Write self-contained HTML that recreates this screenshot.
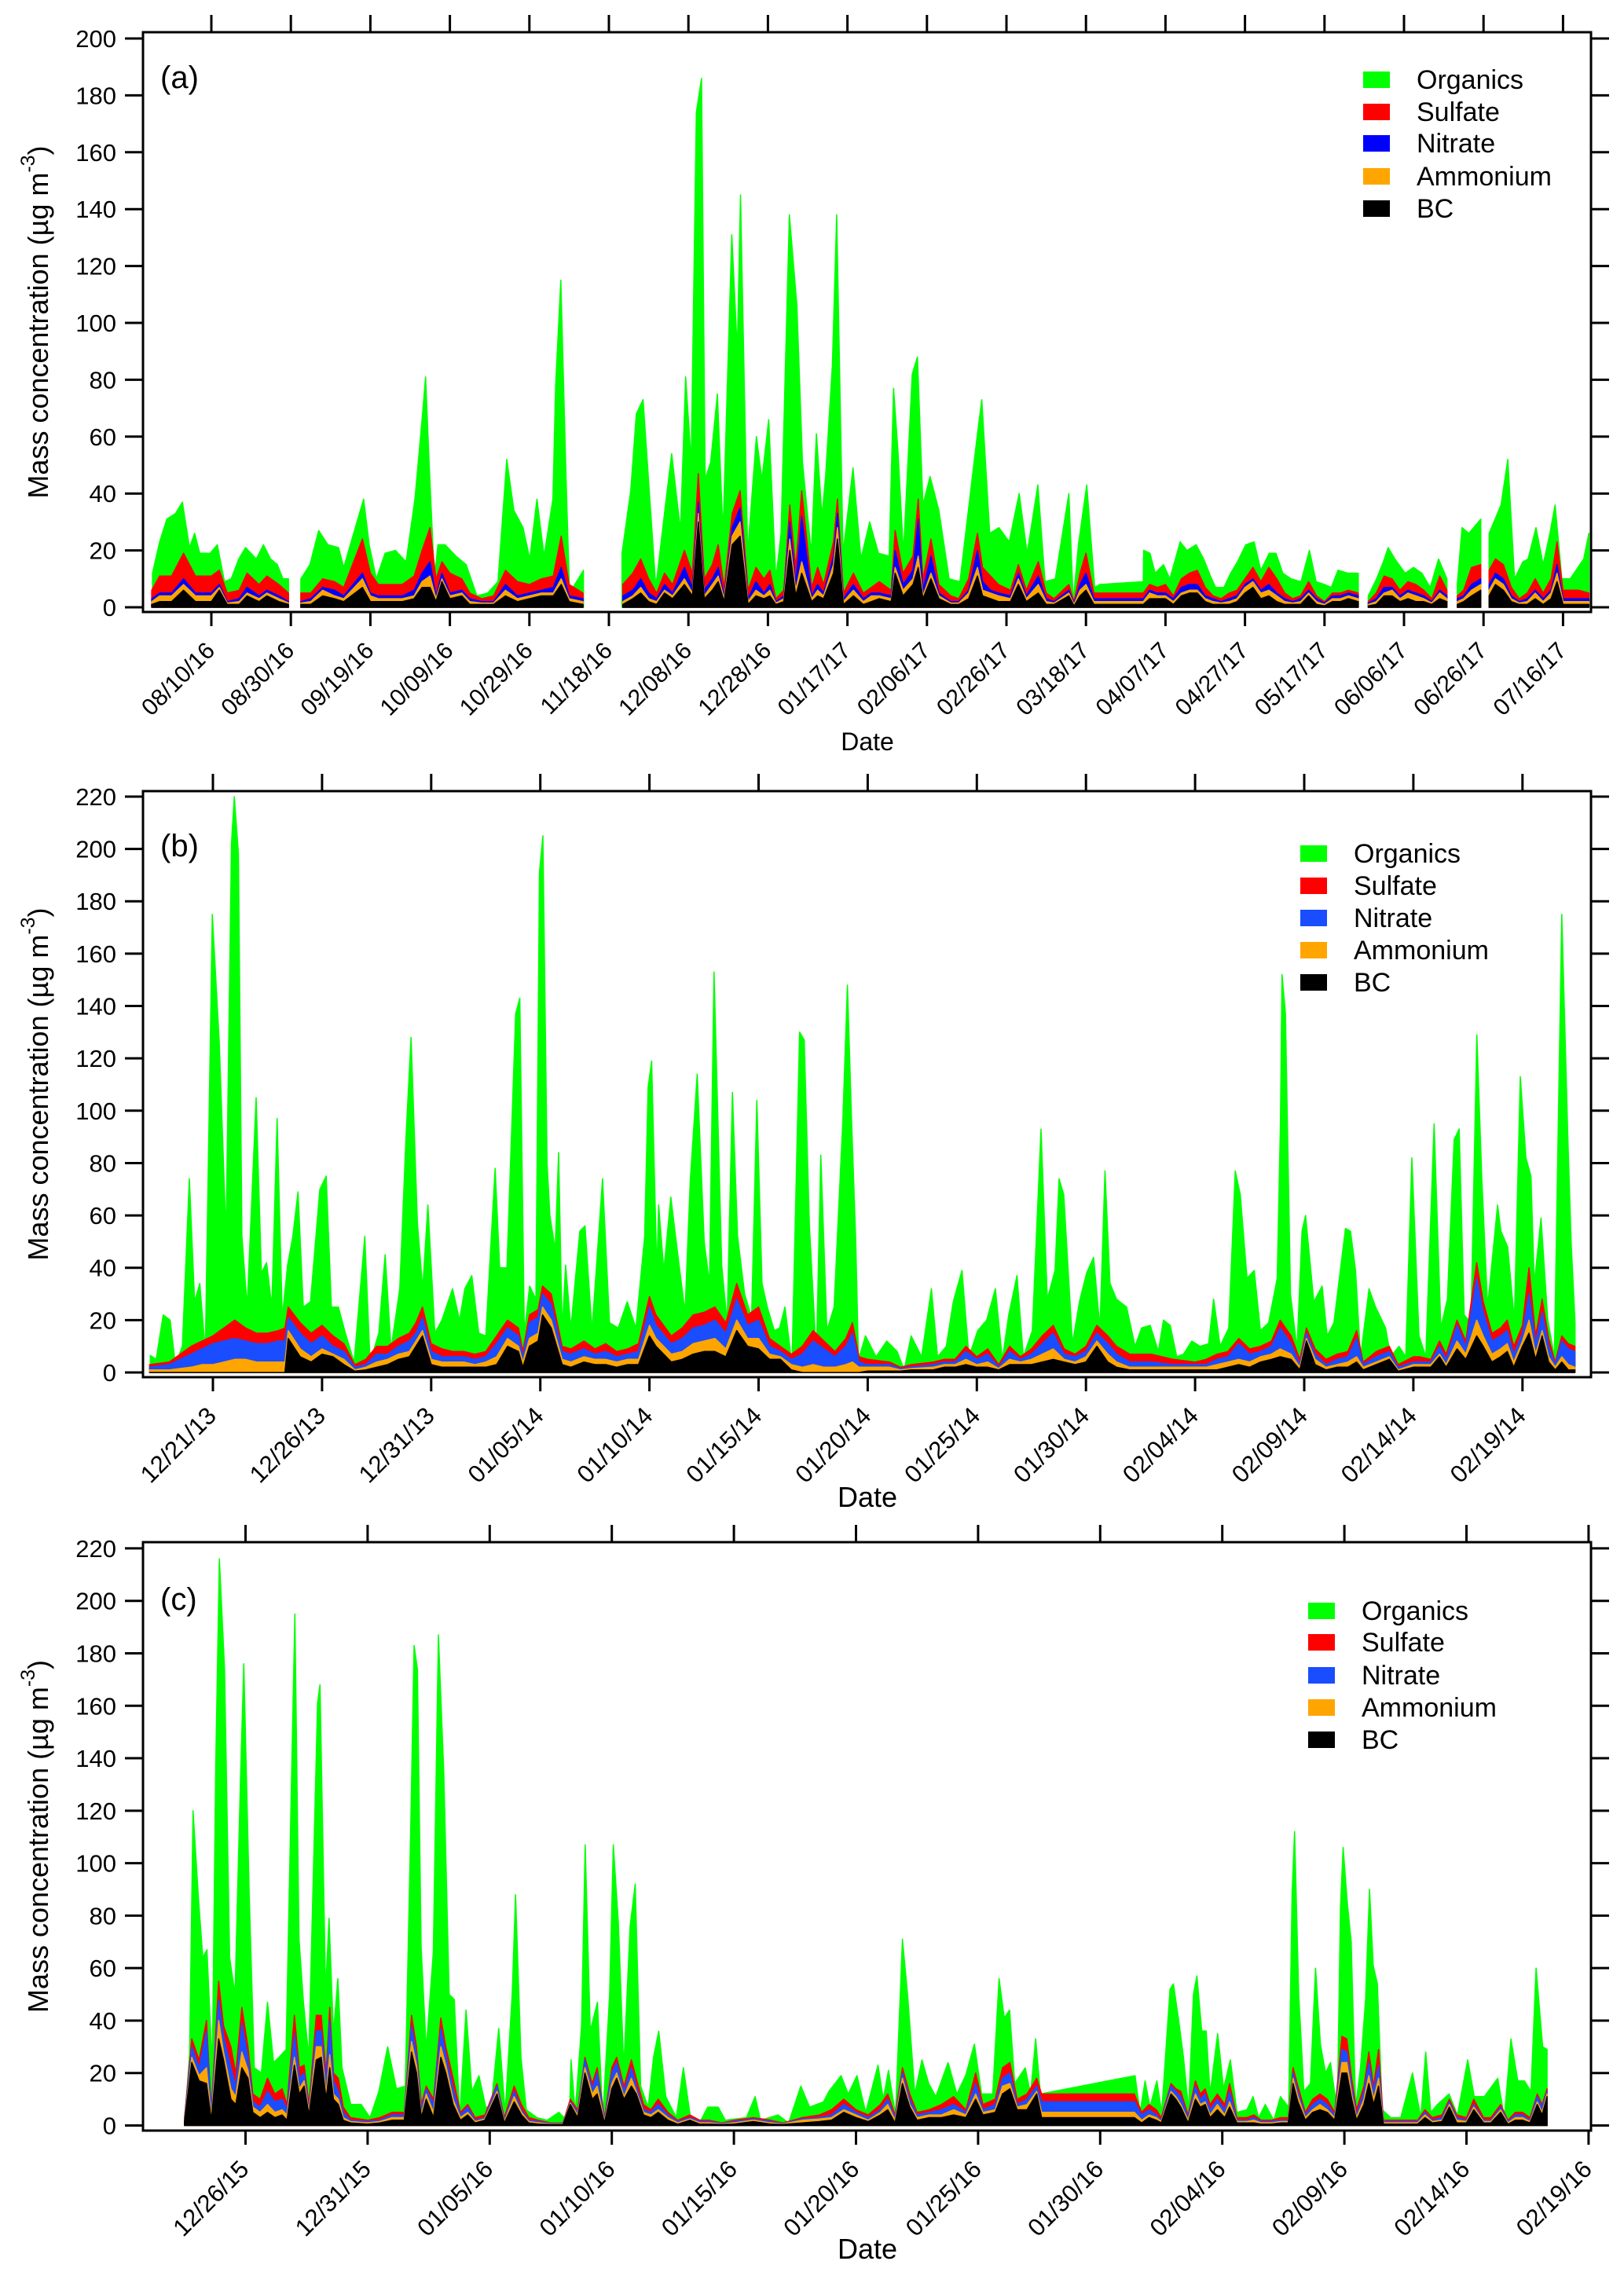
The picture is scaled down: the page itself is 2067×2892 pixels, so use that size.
<!DOCTYPE html>
<html><head><meta charset="utf-8"><title>Mass concentration time series</title>
<style>
html,body{margin:0;padding:0;background:#fff}
svg{display:block}
text{font-family:"Liberation Sans",Arial,sans-serif;fill:#000}
</style></head>
<body>
<svg id="fig" width="2067" height="2892" viewBox="0 0 2067 2892" xmlns="http://www.w3.org/2000/svg">
<rect x="0" y="0" width="2067" height="2892" fill="#fff"/>
</svg>
<script>
// ===== Panel (a) data =====
const aTickLabels=["08/10/16","08/30/16","09/19/16","10/09/16","10/29/16","11/18/16","12/08/16","12/28/16","01/17/17","02/06/17","02/26/17","03/18/17","04/07/17","04/27/17","05/17/17","06/06/17","06/26/17","07/16/17"];
const aTickDays=[0,20,40,60,80,100,120,140,160,180,200,220,240,260,280,300,320,340];
const aYTicks=[0,20,40,60,80,100,120,140,160,180,200];
const aOrgDays=[-14.8,-13,-11.2,-9,-7.3,-5.5,-4.2,-2.9,-0.3,1.5,3.3,5,6.9,8.6,11.3,13.1,14.9,16.6,18,19.4,null,22.5,24.8,27,29.3,32,33.3,38.3,39.7,41.5,43.7,46.3,49,51.2,53,53.9,54.8,56.1,57,58.8,61.5,64.1,66.8,69.5,72.1,74.3,76.1,78.4,80.1,81.9,83.7,85.9,86.6,87.9,89.2,90.1,92.3,93.6,null,103.3,105.5,106.9,108.6,110.4,111.8,114.4,115.8,118,119.3,120.7,122,123.3,124.2,125.6,127.3,128.7,130.9,132.3,133.1,134.9,137.1,138.5,140.2,142,143.3,145.4,147.3,148.7,150.9,152.2,153.6,154.5,156.2,157.3,158.9,161.4,163.4,165.6,167.8,170.5,171.6,172.7,174.1,176.3,177.6,179,180.8,183,185.6,188.3,190.5,192.7,193.8,195.8,198.1,200.7,203.2,205.2,207.9,209.7,212.3,215.7,216.8,218.1,220.2,222.2,223.5,234.4,234.5,236.1,237.4,239.5,241.1,243.7,245.4,247.7,249.6,251.3,252.6,254.7,256.4,258.1,260.2,262.3,264,266.1,267.8,269.5,271.6,274.1,276.2,277.9,280,281.7,283.4,285.9,288.5,null,291,293.1,294.8,296,297.7,300.3,302.4,304.5,306.6,308.7,310.8,null,313.4,314.6,316.3,319.3,null,321.4,324.4,326.1,327.8,329.9,331.2,333.2,335,336.7,338,339.7,341.8,345.2,346.5];
const aOrgTotal=[12,23,31,33,37,21,26,19,19,22,9,10,17,21,17,22,17,15,10,10,null,10,15,27,22,21,14,38,22,10,19,20,16,38,66,81,50,10,22,22,18,15,4,5,9,52,34,28,17,38,18,38,78,115,46,5,10,13,null,19,41,68,73,36,7,38,54,27,81,51,174,186,45,51,75,26,131,90,145,19,60,45,66,10,26,138,106,51,19,61,32,46,85,138,19,49,17,30,19,18,77,55,19,82,88,36,46,34,10,9,35,61,73,26,28,23,40,19,43,9,10,40,2,22,43,7,8,9,20,19,12,15,10,23,20,22,17,11,7,7,12,16,22,23,13,19,19,12,10,9,20,9,8,7,13,12,12,null,4,10,16,21,17,12,14,12,7,17,10,null,8,28,26,31,null,26,36,52,10,16,17,28,15,26,36,10,10,17,26];
const aIonDays=[-15,-13,-10,-7,-4,0,2,4,7,9,12,14,17,19.4,null,22.5,25,28,31,33.3,38,40,42,45,48,51,53,55,56.5,58,60,63,65,68,71,74,77,80,83,86,88,90,93.5,null,103.5,106,108,110,112,114,116,119,121,122.5,124,126,127.5,129,131,133,135,137,139,140.5,142,144,145.5,147,148.5,151,152.5,154,156.5,157.5,159,161.5,164,166,168,171,172,174,176.5,177.8,179,181,183,186,188,190.5,192.7,194,196,198,201,203,205,208,210,212,215.7,217,218.5,220,222,223.5,234.4,236,238,240,242,244,246,248,250,252,254,256,258,260,262,264,266,268,270,272,274,276,278,280,282,284,286,288.5,null,291,293,295,297,299,301,303,305,307,309,310.8,null,313.4,315,317,319.3,null,321.4,323,325,327,329,331,333,335,337,338.5,340,342,344,346.5];
const aSulfTop=[6,11,11,19,11,11,13,5,6,12,8,11,8,5,null,5,5,10,9,7,24,12,8,8,8,11,20,28,10,16,12,10,5,3,4,13,9,8,10,11,25,8,5,null,8,12,17,10,5,12,8,20,12,47,10,15,22,7,33,41,6,14,10,13,3,6,36,14,41,7,14,8,23,38,5,12,5,7,9,6,27,12,18,38,10,24,8,4,3,10,26,14,11,8,6,15,6,16,5,3,8,2,12,19,5,5,5,8,7,8,4,10,12,13,7,4,3,5,6,10,14,9,14,10,5,3,4,9,4,2,5,5,6,5,null,2,5,11,10,6,9,8,6,3,11,6,null,4,6,14,15,null,13,17,15,7,3,5,10,5,10,23,6,6,6,5];
const aNitTop=[3,5,5,10,5,5,8,2,3,7,4,6,4,2,null,2,3,7,6,4,12,5,4,4,4,6,12,16,4,12,5,6,3,2,2,8,4,5,6,7,14,4,3,null,4,6,10,5,3,8,5,14,7,37,6,10,14,4,28,35,3,9,5,8,2,4,30,8,32,4,8,5,18,33,3,8,3,5,5,4,20,8,13,31,6,18,5,2,2,6,20,9,6,5,4,12,4,11,3,2,6,1.5,8,12,3,3,3,6,5,5,3,7,8,8,4,3,2,3,4,8,10,6,8,5,3,2,3,6,3,1.5,4,4,5,4,null,1.5,3,7,7,4,6,5,4,2,6,4,null,3,4,8,10,null,8,12,10,4,2,3,6,3,6,15,3,3,3,3];
const aAmmTop=[2,4,4,8,4,4,7,1.5,2,5,3,5,3,1.5,null,1.5,2,6,4,3,10,4,3,3,3,4,9,11,3,10,4,5,2,1.5,1.5,6,3,4,5,5,10,3,2,null,2,4,7,3,2,6,4,10,5,33,4,8,11,3,25,30,2,6,4,6,1.5,3,24,6,16,3,6,4,15,28,2,6,2,4,4,3,14,6,10,18,4,12,4,1.5,1.5,5,14,6,5,4,3,10,3,8,2,1.5,5,1,6,8,2,2,2,5,4,4,2,5,6,6,3,2,1.5,2,3,7,9,5,6,4,2,1.5,2,5,2,1,3,3,4,3,null,1,2,5,6,3,5,4,3,1.5,5,3,null,2,3,6,8,null,6,10,8,3,1.5,2,5,2,5,12,2,2,2,2];
const aBC=[1,2,2,6,2,2,6,1,1,4,2,4,2,1,null,1,1,4,3,2,7,2,2,2,2,3,7,7,2,9,3,4,1,1,1,4,2,3,4,4,8,2,1,null,1,3,5,2,1,5,3,8,4,30,3,6,9,2,22,25,1,4,3,4,1,2,20,4,12,2,4,3,12,24,1,4,1,2,3,2,12,4,8,14,3,10,3,1,1,3,11,4,3,2,2,8,2,5,1,1,4,0.5,4,6,1,1,1,3,3,3,1,4,5,5,2,1,1,1,2,5,7,3,4,2,1,1,1,4,1,0.5,2,2,3,2,null,0.5,1,4,4,2,3,2,2,1,3,2,null,1,2,4,6,null,4,8,6,2,1,1,3,1,3,9,1,1,1,1];

// ===== Panel (b) data =====
const bTickLabels=["12/21/13","12/26/13","12/31/13","01/05/14","01/10/14","01/15/14","01/20/14","01/25/14","01/30/14","02/04/14","02/09/14","02/14/14","02/19/14"];
const bTickDays=[0,5,10,15,20,25,30,35,40,45,50,55,60];
const bYTicks=[0,20,40,60,80,100,120,140,160,180,200,220];
const bOrgDays=[-2.87,-2.6,-2.28,-1.96,-1.72,-1.4,-1.08,-0.84,-0.6,-0.35,-0.11,-0.03,0.29,0.6,0.85,0.98,1.17,1.33,1.57,1.98,2.22,2.46,2.7,2.94,3.18,3.42,3.66,3.9,4.14,4.47,4.9,5.19,5.43,5.75,6.07,6.47,6.96,7.2,7.6,7.89,8.16,8.56,8.85,9.08,9.37,9.61,9.85,10.17,10.49,10.98,11.3,11.54,11.86,12.18,12.5,12.93,13.14,13.47,13.87,14.06,14.27,14.51,14.8,14.96,15.12,15.31,15.44,15.68,15.84,16,16.16,16.4,16.81,17.05,17.37,17.85,18.17,18.57,18.98,19.38,19.78,19.94,20.1,20.34,20.42,20.66,20.98,21.3,21.63,21.87,22.19,22.51,22.75,22.96,23.31,23.56,23.8,24.04,24.36,24.68,24.92,25.16,25.4,25.72,25.96,26.21,26.53,26.88,27.09,27.33,27.65,27.85,28.13,28.46,28.86,29.07,29.26,29.45,29.58,29.9,30.38,30.87,31.35,31.67,31.99,32.47,32.92,33.2,33.6,33.92,34.32,34.64,35.04,35.45,35.85,36.17,36.46,36.84,37.13,37.54,37.94,38.23,38.58,38.77,38.98,39.38,39.7,40.03,40.35,40.64,40.87,41.1,41.4,41.86,42.25,42.55,42.94,43.32,43.55,43.86,44.16,44.47,44.85,45.23,45.62,45.85,46.15,46.54,46.84,47.07,47.38,47.71,47.99,48.37,48.76,48.91,48.98,49.14,49.37,49.67,49.9,50.06,50.44,50.82,51.05,51.36,51.89,52.12,52.35,52.58,52.97,53.27,53.73,53.96,54.34,54.65,54.93,55.26,55.57,55.95,56.26,56.56,56.87,57.1,57.33,57.64,57.91,58.13,58.4,58.86,59.01,59.32,59.63,59.9,60.16,60.39,60.54,60.85,61.16,61.46,61.8,62.08,62.23,62.41];
const bOrgTotal=[6.5,5,22,20,3,10,74,27,34,8,131,175,126,52,202,220,198,52,25,105,38,42,25,97,21,41,52,69,25,27,70,75,25,25,15,4,52,4,15,45,9,32,91,128,57,32,64,15,20,32,20,32,37,15,14,78,40,40,137,143,15,33,28,191,205,80,60,47,84,16,41,17,54,56,16,74,19,17,27,17,52,109,119,38,64,39,67,45,23,73,114,50,34,153,41,19,107,52,30,21,104,34,25,16,17,25,3,130,127,56,6,83,16,25,96,148,97,51,5,14,6,12,8,1,14,6,32,6,10,27,39,6,16,20,32,5,22,37,6,16,93,28,39,74,68,11,27,38,44,17,77,34,28,25,10,17,18,8,20,18,6,7,12,10,11,28,10,17,77,68,36,39,16,19,36,95,152,137,30,9,54,60,27,33,14,19,55,54,39,6,32,25,17,6,10,6,82,14,6,95,17,28,89,93,22,19,129,75,25,64,54,48,20,113,82,75,34,59,20,6,175,89,50,19];
const bIonDays=[-2.9,-2,-1,-0.5,0,0.5,1,1.5,2,2.5,3,3.3,3.45,4,4.5,5,5.5,6,6.5,7,7.5,8,8.5,9,9.3,9.6,10,10.5,11,11.5,12,12.5,13,13.5,14,14.2,14.5,14.9,15.1,15.5,16,16.4,17,17.5,18,18.5,19,19.5,20,20.3,21,21.5,22,22.5,23,23.5,24,24.5,25,25.5,26,26.5,27,27.5,28,28.5,29,29.3,29.6,30,31,31.5,32,33,33.5,34,34.5,35,35.5,36,36.5,37,37.5,38,38.5,39,39.5,40,40.5,41,41.4,42,43,44,45,45.5,46,46.5,47,47.5,48,48.5,48.9,49.4,49.8,50.1,50.5,51,51.5,52,52.4,52.7,53.3,53.9,54.3,55,55.3,55.8,56.2,56.5,57,57.4,57.9,58.2,58.6,59,59.3,59.6,60,60.3,60.6,60.9,61.2,61.5,61.8,62.1,62.4];
const bSulfTop=[3,4,10,12,14,17,20,17,15,15,16,17,25,19,15,18,14,11,3,5,10,10,13,15,19,25,11,9,8,8,7,8,14,20,17,8,22,24,33,30,10,9,12,9,11,8,9,11,29,22,14,17,22,23,25,19,34,22,25,13,10,7,10,16,12,8,13,19,6,5,4,2,3,4,5,5,10,6,9,3,10,6,9,14,18,9,7,10,18,14,10,7,7,5,4,5,7,8,13,9,10,12,20,14,5,17,9,5,7,8,16,4,8,10,3,6,6,5,12,7,20,12,42,27,15,17,20,10,18,40,14,28,13,4,14,11,10];
const bNitTop=[2,3,7,9,11,12,13,12,11,11,12,12,21,15,11,14,10,8,2,3,7,7,10,12,15,21,8,6,6,6,5,6,11,17,14,6,19,21,30,26,8,7,9,7,8,6,7,8,25,18,11,13,17,18,20,15,28,18,20,10,8,5,7,12,9,6,10,15,4,3,3,1.5,2,3,4,4,8,5,7,2,8,5,7,11,15,7,6,8,15,11,7,4,4,3,3,3,5,6,11,7,8,10,17,11,3,15,7,3,5,6,13,3,6,8,2,4,4,4,10,5,18,10,36,23,12,14,16,7,15,30,11,23,10,3,12,9,8];
const bAmmTop=[1,1,2,3,3,4,5,5,4,4,4,4,16,9,6,9,7,5,1,2,4,5,7,8,12,16,5,4,4,4,3,4,6,13,10,4,13,15,25,20,5,4,6,5,5,4,5,5,18,13,7,8,11,12,13,9,20,13,13,7,6,3,2,3,2,2,3,4,2,2,2,1,1.5,2,3,3,5,3,4,1.5,5,4,5,7,9,5,4,6,12,7,4,2,2,2,2,2,3,4,5,4,6,7,9,7,2,13,5,2,3,4,6,2,4,6,1,3,3,3,7,3,12,7,20,14,7,9,11,4,12,20,7,16,6,2,6,3,2];
const bBC=[0,0,0,0,0,0,0,0,0,0,0,0,13,6,4,7,6,3,0.5,1,2,3,5,6,10,14,3,2,2,2,2,2,3,10,8,2,10,12,22,17,3,2,4,3,3,2,3,3,14,10,4,5,7,8,8,6,16,10,9,5,5,1,0,0,0,0,0,0,0,0.5,0.5,0.5,1,1,2,2,3,2,2,1,3,3,3,4,5,4,3,4,10,4,2,1,1,1,1,1,1,2,3,2,4,5,6,5,1,12,3,1,2,2,4,1,3,5,0.5,2,2,2,6,2,9,5,14,10,4,6,8,2,10,15,5,14,4,1,4,1,1];

// ===== Panel (c) data =====
const cTickLabels=["12/26/15","12/31/15","01/05/16","01/10/16","01/15/16","01/20/16","01/25/16","01/30/16","02/04/16","02/09/16","02/14/16","02/19/16"];
const cTickDays=[0,5,10,15,20,25,30,35,40,45,50,55];
const cYTicks=[0,20,40,60,80,100,120,140,160,180,200,220];
const cOrgDays=[-2.48,-2.29,-2.15,-1.93,-1.75,-1.58,-1.36,-1.22,-1.07,-0.86,-0.65,-0.43,-0.21,-0.07,0.15,0.36,0.65,0.9,1.15,1.37,1.66,2.02,2.19,2.37,2.59,2.95,3.05,3.28,3.42,3.6,3.78,3.95,4.31,4.74,5.1,5.46,5.82,6.18,6.54,6.76,6.9,7.04,7.19,7.4,7.69,7.9,8.12,8.34,8.55,8.77,9.03,9.27,9.56,9.84,10.06,10.37,10.63,10.92,11.06,11.28,11.5,11.93,12.36,12.83,13.26,13.33,13.5,13.76,13.91,14.12,14.41,14.63,14.91,15.06,15.27,15.49,15.75,15.96,16.18,16.49,16.71,16.92,17.21,17.64,17.93,18.22,18.65,18.93,19.36,19.65,20.51,20.87,21.09,21.81,22.24,22.74,23.1,23.67,23.89,24.39,24.68,25.04,25.4,25.9,26.12,26.33,26.62,26.9,27.12,27.41,27.7,27.98,28.27,28.77,29.13,29.49,29.85,30.14,30.6,30.86,31.07,31.29,31.5,31.93,32.15,32.36,32.55,36.43,36.63,36.84,37.04,37.32,37.52,37.86,38,38.2,38.41,38.62,38.82,38.96,39.16,39.34,39.5,39.81,40.05,40.33,40.6,41.01,41.26,41.49,41.76,42.11,42.38,42.72,42.86,42.96,43.13,43.34,43.61,43.82,44.02,44.23,44.43,44.71,44.84,44.95,45.12,45.28,45.46,45.66,45.87,46.03,46.18,46.35,46.55,46.9,47.31,47.79,48.13,48.33,48.54,48.81,49.29,49.63,50.05,50.32,50.73,51.28,51.55,51.82,52.1,52.37,52.64,52.85,53.12,53.3];
const cOrgTotal=[3,27,120,87,64,67,22,138,216,174,64,50,131,176,88,22,20,47,24,26,29,195,71,47,26,161,168,51,79,35,56,22,8,8,3,13,30,14,15,111,183,174,68,29,66,187,134,50,48,3,44,13,19,7,7,37,5,50,88,26,6,3,2,5,1,25,5,38,107,36,47,3,50,107,77,22,76,92,15,7,26,36,11,3,22,3,2,7,7,2,3,11,2,4,1,15,7,9,13,19,12,19,5,23,10,21,4,71,49,12,25,16,11,24,12,19,31,12,12,56,41,44,16,22,12,33,12,19,5,17,7,17,5,52,54,41,26,6,50,57,36,36,12,35,14,25,5,6,11,3,8,2,11,7,89,112,50,13,16,60,31,20,24,5,83,106,85,70,7,22,48,90,61,54,6,3,3,20,3,28,5,8,12,4,25,11,11,18,3,33,17,17,13,60,30,29];
const cIonDays=[-2.5,-2.2,-1.9,-1.6,-1.4,-1.1,-0.9,-0.6,-0.4,-0.15,0.1,0.3,0.6,0.9,1.2,1.5,1.7,2,2.2,2.4,2.6,2.9,3.1,3.3,3.45,3.6,3.8,4,4.3,5,5.5,6,6.5,6.8,7,7.2,7.4,7.7,8,8.2,8.5,8.8,9.1,9.4,9.8,10.3,10.6,11,11.3,11.6,12,12.5,13,13.3,13.6,13.9,14.2,14.4,14.7,15,15.2,15.5,15.8,16,16.3,16.6,16.9,17.3,17.7,18.2,18.6,19,19.5,20,20.8,21.5,22,22.8,23.5,24,24.5,25,25.5,26,26.3,26.6,26.9,27.2,27.5,28,28.5,29,29.5,29.9,30.2,30.7,31,31.3,31.6,32,32.4,32.6,36.4,36.7,37,37.3,37.5,37.9,38.1,38.3,38.6,38.9,39.1,39.3,39.5,39.8,40.1,40.3,40.6,41,41.3,41.6,42,42.4,42.7,42.9,43.1,43.4,43.7,44,44.3,44.6,44.9,45.1,45.3,45.5,45.8,46,46.2,46.4,46.6,47,47.5,48,48.3,48.6,49,49.3,49.6,50,50.3,50.7,51,51.4,51.7,52,52.3,52.6,52.9,53.1,53.3];
const cSulfTop=[3,33,25,40,6,55,38,30,20,45,30,12,10,18,12,14,8,42,22,23,8,42,42,20,45,20,18,7,3,2,3,5,5,42,30,8,15,10,41,30,18,5,8,3,4,16,3,15,8,3,2,1,1,10,6,26,16,22,3,22,26,15,25,18,8,6,10,5,2,4,2,2,1,2,3,2,1,3,4,6,10,6,4,8,12,4,22,12,5,6,8,11,6,20,8,10,22,24,10,12,18,12,12,5,8,6,3,16,14,13,4,17,12,14,8,12,8,16,3,3,4,2,2,3,3,22,15,5,10,12,10,5,34,33,18,6,15,28,15,29,2,2,2,2,6,3,4,10,4,3,10,3,3,8,2,5,5,3,12,8,14];
const cNitTop=[2.5,30,22,36,5,48,34,22,15,39,26,9,7,13,9,10,6,35,18,20,6,36,36,16,40,17,13,5,2,1.5,2,4,4,38,27,6,14,8,37,27,14,4,7,2,3,15,2,13,6,2,1.5,0.8,0.8,9,5,25,14,20,2,20,24,13,22,15,6,5,8,4,1.5,3,1.5,1.5,0.8,1.5,2.5,1.5,0.8,2.5,3,4,8,5,3,6,10,3,20,10,4,5,6,8,5,16,6,8,18,20,8,10,15,9,9,4,6,4,2,15,13,11,3,15,10,12,6,10,6,13,2,2,3,1.5,1.5,2,2,20,13,4,8,10,8,4,29,28,15,4,13,24,13,23,1.5,1.5,1.5,1.5,5,2,3,9,3,2,8,2,2,7,1.5,4,4,2,11,7,13];
const cAmmTop=[2,26,19,22,3,40,28,14,11,28,21,7,5,8,5,6,4,26,14,17,5,30,30,12,27,12,10,3,1.5,1,1.5,3,3,32,23,4,12,5,30,23,10,3,5,1.5,2.5,13,1.5,11,5,1.5,1,0.6,0.6,8.5,4,22,12,15,1.5,16,20,11,18,13,5,4,6,3,1,2.5,1,1,0.6,1,2,1,0.6,2,2.5,3,6,4,2,5,8,2,18,8,3,4,4,6,4,12,5,6,15,16,7,8,13,5,5,2,4,3,1.5,13,11,8,2,12,8,9,4,8,4,9,1.5,1.5,2,1,1,1.5,1.5,18,11,3,6,8,6,3,24,24,12,3,10,19,10,18,1,1,1,1,4,1.5,2,8,2,1.5,7,1.5,1.5,6,1,3,3,1.5,9,5,12];
const cBC=[1.5,24,17,16,2,33,25,10,8,22,18,5,3,5,3,4,2,23,12,15,4,25,26,10,22,10,8,2,1,0.5,1,2,2,28,20,3,10,3,26,20,8,2,4,1,2,12,1,9,4,1,0.5,0.4,0.4,8,3,20,10,12,1,14,18,10,15,12,4,3,5,2,0.5,2,0.5,0.5,0.4,0.5,1.5,0.5,0.4,1,1.5,2,5,3,1.5,4,6,1,16,7,2,3,3,4,3,10,4,5,12,14,6,6,12,3,3,1,3,2,1,12,10,7,1,10,7,8,3,6,3,7,1,1,1,0.5,0.5,1,1,16,9,2,5,6,5,2,20,20,10,2,8,16,8,15,0.5,0.5,0.5,0.5,3,1,1.5,7,1,1,6,1,1,5,0.5,2,2,1,8,4,11];

// ===== rendering =====
const NS="http://www.w3.org/2000/svg";
const svg=document.getElementById('fig');
function mk(tag,attrs,parent){const e=document.createElementNS(NS,tag);for(const k in attrs)e.setAttribute(k,attrs[k]);(parent||svg).appendChild(e);return e;}

function drawPanel(p){
  const g=mk('g',{});
  
  
  const xs=d=>p.x0+d*p.ppd;
  const ys=v=>p.y0-v*p.ppu;
  const L=p.frame[0],T=p.frame[1],R=p.frame[2],B=p.frame[3];
  const clip=mk('clipPath',{id:'clip-'+p.id},g);
  mk('rect',{x:L,y:T,width:R-L,height:B-T},clip);
  const plot=mk('g',{'clip-path':'url(#clip-'+p.id+')'},g);
  
  
  function area(days,vals,color,name){
    let d='',seg=[];
    const flush=()=>{if(seg.length){d+='M'+xs(seg[0][0]).toFixed(1)+','+ys(0).toFixed(1);for(const s of seg)d+='L'+xs(s[0]).toFixed(1)+','+ys(s[1]).toFixed(1);d+='L'+xs(seg[seg.length-1][0]).toFixed(1)+','+ys(0).toFixed(1)+'Z';}seg=[];};
    for(let i=0;i<days.length;i++){if(days[i]===null||vals[i]===null){flush();continue;}seg.push([days[i],vals[i]]);}
    flush();
    const path=mk('path',{d:d,fill:color,stroke:color,'stroke-width':1.5,'stroke-linejoin':'round'},plot);
    
    
  }
  area(p.orgDays,p.org,'#00ff00','organics-area-'+p.id);
  area(p.ionDays,p.sulf,'#ff0000','sulfate-area-'+p.id);
  area(p.ionDays,p.nit,p.blue,'nitrate-area-'+p.id);
  area(p.ionDays,p.amm,'#ffa500','ammonium-area-'+p.id);
  area(p.ionDays,p.bc,'#000000','bc-area-'+p.id);
  const fr=mk('rect',{x:L,y:T,width:R-L,height:B-T,fill:'none',stroke:'#000','stroke-width':3},g);
  
  
  for(const v of p.yTicks){
    const y=ys(v);
    const t1=mk('line',{x1:L-23,x2:L,y1:y,y2:y,stroke:'#000','stroke-width':3},g);
    
    
    const t2=mk('line',{x1:R,x2:R+23,y1:y,y2:y,stroke:'#000','stroke-width':3},g);
    
    
    const lb=mk('text',{x:L-34,y:y+11,'text-anchor':'end','font-size':31},g);
    lb.textContent=v;
    
    
  }
  for(let i=0;i<p.tickDays.length;i++){
    const x=xs(p.tickDays[i]);
    const t1=mk('line',{x1:x,x2:x,y1:B,y2:B+18,stroke:'#000','stroke-width':3},g);
    
    
    const t2=mk('line',{x1:x,x2:x,y1:T-22,y2:T,stroke:'#000','stroke-width':3},g);
    
    
    const ax=x+6,ay=B+51;
    const lb=mk('text',{x:ax,y:ay,'text-anchor':'end','font-size':p.xfs,transform:'rotate(-45 '+ax+' '+ay+')'},g);
    lb.textContent=p.tickLabels[i];
    
    
  }
  const pl=mk('text',{x:L+22,y:p.labY,'font-size':40},g);
  pl.textContent='('+p.id+')';
  
  
  const cy=(T+B)/2;
  const yt=mk('text',{x:61,y:cy,'text-anchor':'middle','font-size':36,transform:'rotate(-90 61 '+cy+')'},g);
  
  
  yt.appendChild(document.createTextNode('Mass concentration (µg m'));
  const sup=mk('tspan',{dy:-17,'font-size':25},yt);
  sup.textContent='-3';
  const cl=mk('tspan',{dy:17},yt);
  cl.textContent=')';
  const xt=mk('text',{x:1104,y:p.dateY,'text-anchor':'middle','font-size':p.dateFs},g);
  xt.textContent='Date';
  
  
  const names=['Organics','Sulfate','Nitrate','Ammonium','BC'];
  const cols=['#00ff00','#ff0000',p.blue,'#ffa500','#000000'];
  const lg=mk('g',{},g);
  
  
  for(let i=0;i<5;i++){
    const cyy=p.legRows[i];
    const sw=mk('rect',{x:p.legX,y:cyy-10,width:34,height:21,fill:cols[i]},lg);
    
    
    const tx=mk('text',{x:p.legX+68,y:cyy+12,'font-size':34},lg);
    tx.textContent=names[i];
    
    
  }
}

drawPanel({id:'a',x0:269,ppd:5.06,y0:773,ppu:3.62,frame:[182,41,2025,779],yTicks:aYTicks,tickDays:aTickDays,tickLabels:aTickLabels,
  orgDays:aOrgDays,org:aOrgTotal,ionDays:aIonDays,sulf:aSulfTop,nit:aNitTop,amm:aAmmTop,bc:aBC,blue:'#0000ff',
  labY:112,dateY:955,dateFs:32,xfs:30,legX:1735,legRows:[101,142,182,224,265]});
drawPanel({id:'b',x0:271,ppd:27.78,y0:1747,ppu:3.332,frame:[182,1007,2025,1753],yTicks:bYTicks,tickDays:bTickDays,tickLabels:bTickLabels,
  orgDays:bOrgDays,org:bOrgTotal,ionDays:bIonDays,sulf:bSulfTop,nit:bNitTop,amm:bAmmTop,bc:bBC,blue:'#1a4dff',
  labY:1090,dateY:1918,dateFs:36,xfs:31,legX:1655,legRows:[1086,1127,1168,1209,1250]});
drawPanel({id:'c',x0:312.5,ppd:31.08,y0:2705.5,ppu:3.339,frame:[182,1963,2025,2712],yTicks:cYTicks,tickDays:cTickDays,tickLabels:cTickLabels,
  orgDays:cOrgDays,org:cOrgTotal,ionDays:cIonDays,sulf:cSulfTop,nit:cNitTop,amm:cAmmTop,bc:cBC,blue:'#1a4dff',
  labY:2049,dateY:2875,dateFs:36,xfs:31,legX:1665,legRows:[2050,2090,2132,2173,2214]});
</script>
</body></html>
